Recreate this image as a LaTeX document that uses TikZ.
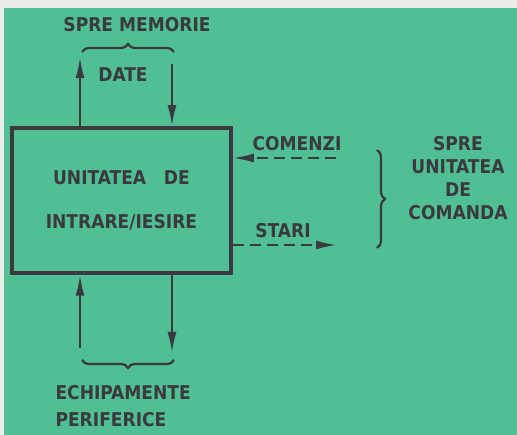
\documentclass[tikz,border=0pt]{standalone}
\usepackage{fontspec}
\setmainfont{DejaVu Sans Condensed}
\usetikzlibrary{positioning,arrows.meta,decorations.pathreplacing}
\definecolor{paper}{RGB}{234,237,232}
\definecolor{board}{RGB}{80,191,148}
\definecolor{ink}{RGB}{58,58,62}
\tikzset{x=1pt,y=-1pt,
    every node/.style={text=ink,font=\fontsize{19}{23}\selectfont\bfseries},
    unitbox/.style={draw=ink,line width=3.5pt,minimum width=219pt,minimum height=145pt,
        align=center},
    wire/.style={draw=ink,line width=2.4pt,-{Latex[length=21pt,width=9pt]}},
    ctlwire/.style={wire,dash pattern=on 11pt off 6pt},
    bracket/.style={draw=ink,line width=2.2pt,decorate,
        decoration={brace,amplitude=8pt}},
    }
\begin{document}
\begin{tikzpicture}
\fill[paper] (0,0) rectangle (517,435);
\fill[board] (4,8) rectangle (517,435);
\useasboundingbox (0,0) rectangle (517,435);
\node[unitbox] (iobox) at (121.5,200.5) {UNITATEA\ \ \ DE\\[21pt]INTRARE/IESIRE};
% memorie
\coordinate (memout) at (80,57);
\coordinate (memin) at (172,64);
\draw[wire] (memout |- iobox.north) -- (memout);
\draw[wire] (memin) -- (memin |- iobox.north);
\draw[bracket] (82,52) -- (174,52);
\node (mem) at (137,25) {SPRE MEMORIE};
\node (date) at (123,75) {DATE};
% periferice
\coordinate (perin) at (80,348);
\coordinate (perout) at (172,353);
\draw[wire] (perin) -- (perin |- iobox.south);
\draw[wire] (perout |- iobox.south) -- (perout);
\draw[bracket] (174,360) -- (82,360);
\node[anchor=west,align=left] (per) at (52,406) {ECHIPAMENTE\\[4pt]PERIFERICE};
% comanda
\coordinate (cmd) at (336,158);
\coordinate (sta) at (337,245);
\draw[ctlwire] (cmd) -- (cmd -| iobox.east);
\draw[ctlwire] (sta -| iobox.east) -- (sta);
\node (comenzi) at (297,144) {COMENZI};
\node (stari) at (283,231) {STARI};
\draw[bracket] (377,150) -- (377,248);
\node[align=center] (unitcmd) at (458,178) {SPRE\\UNITATEA\\DE\\COMANDA};
\end{tikzpicture}
\end{document}
